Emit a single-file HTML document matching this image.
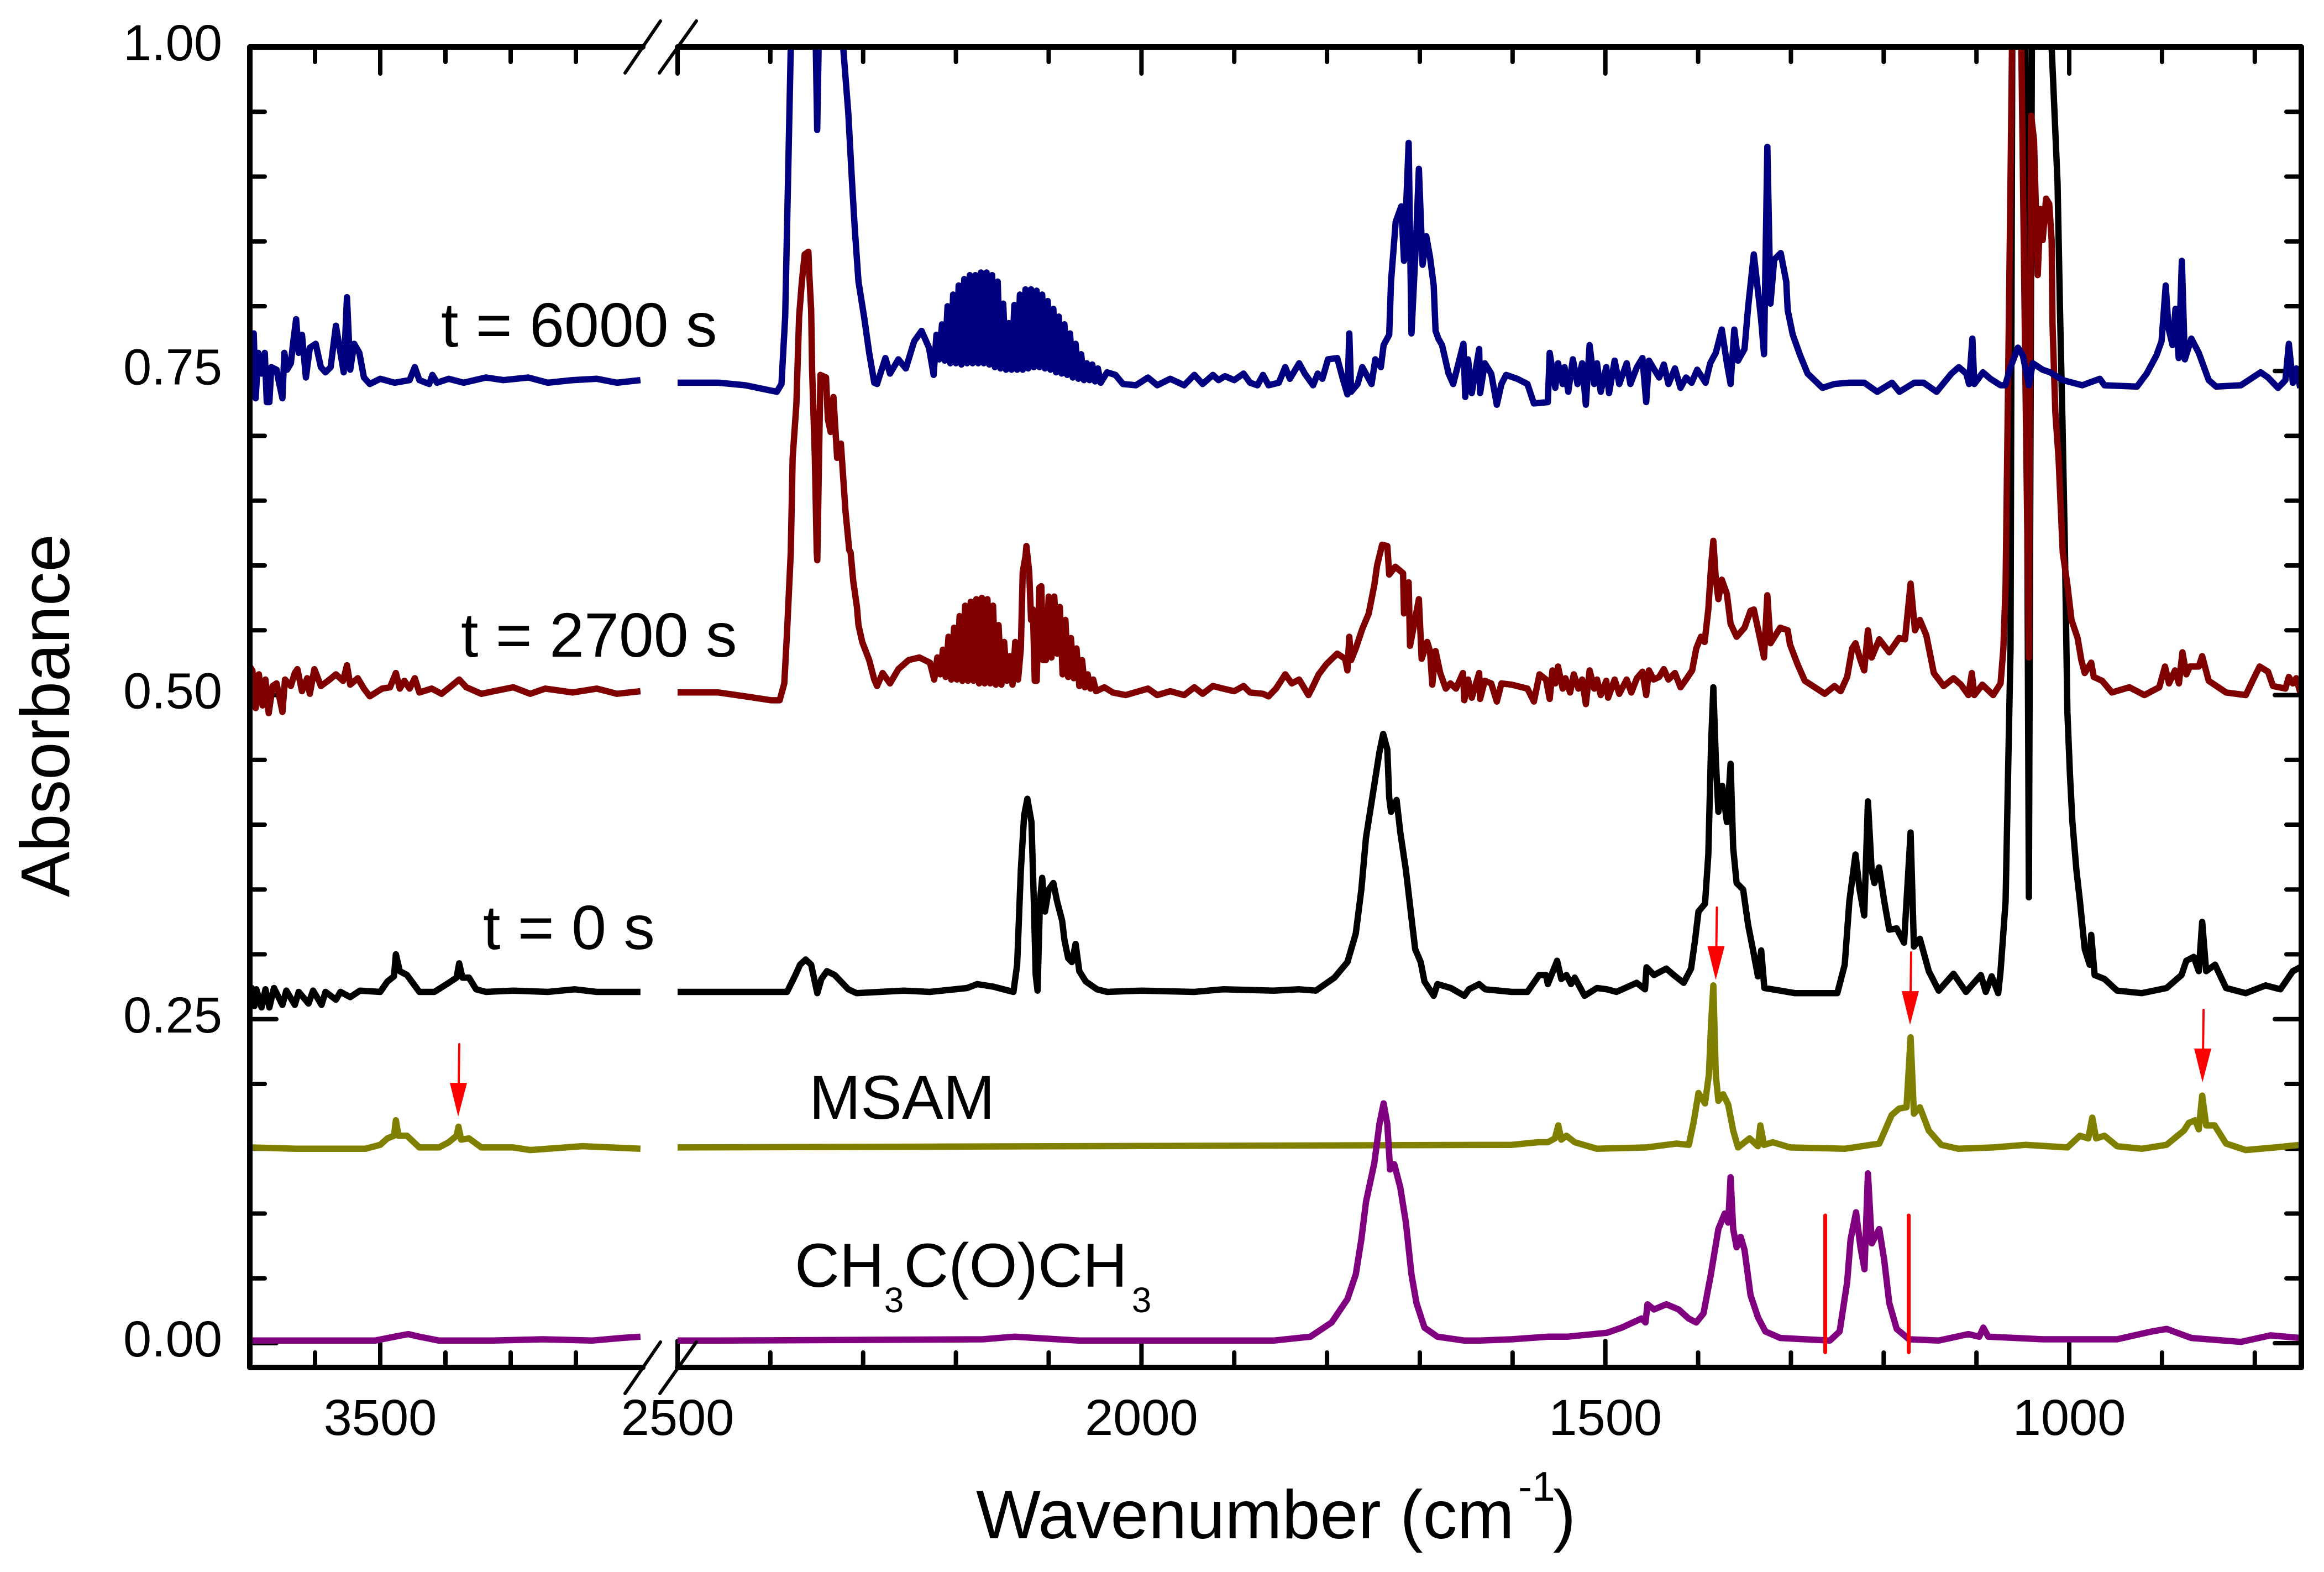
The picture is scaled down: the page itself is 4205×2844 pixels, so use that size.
<!DOCTYPE html>
<html lang="en">
<head>
<meta charset="utf-8">
<title>FTIR absorbance spectra</title>
<style>
html,body{margin:0;padding:0;background:#fff;}
svg{display:block;}
text{font-family:"Liberation Sans",Arial,sans-serif;fill:#000;}
</style>
</head>
<body>
<svg id="chart" xmlns="http://www.w3.org/2000/svg" width="4205" height="2844" viewBox="0 0 4205 2844">
<rect x="0" y="0" width="4205" height="2844" fill="#ffffff"/>
<defs><clipPath id="plot-clip"><rect x="452" y="85" width="3712" height="2389"/></clipPath></defs>
<g id="ticks"></g>
<g id="series" clip-path="url(#plot-clip)"></g>
<g id="marks"></g>
<g id="frame"></g>
<g id="labels"></g>

<text transform="translate(125,1623) rotate(-90)" font-size="125" textLength="657" lengthAdjust="spacingAndGlyphs">Absorbance</text>
<text x="1766" y="2783" font-size="124">Wavenumber (cm</text>
<text x="2747" y="2715" font-size="75">-1</text>
<text x="2810" y="2783" font-size="124">)</text>

<text x="798" y="627" font-size="113">t = 6000 s</text>
<text x="834" y="1188" font-size="113">t = 2700 s</text>
<text x="874" y="1717" font-size="113">t = 0 s</text>
<text x="1464" y="2024" font-size="112">MSAM</text>
<text x="1438" y="2328" font-size="112">CH<tspan font-size="64" dy="46">3</tspan><tspan dy="-46">C(O)CH</tspan><tspan font-size="64" dy="46" dx="8">3</tspan></text>
</svg>

<script>
/* ---------- axis data ---------- */
const xMajorTicks = [3500,2500,2000,1500,1000];
const xMinorTicks = [3600,3400,3300,3200,2400,2300,2200,2100,1900,1800,1700,1600,1400,1300,1200,1100,900,800];
const xTickLabels = ['3500','2500','2000','1500','1000'];
const yMajorTicks = [0,0.25,0.5,0.75,1];
const yMinorTicks = [0.05,0.1,0.15,0.2,0.3,0.35,0.4,0.45,0.55,0.6,0.65,0.7,0.8,0.85,0.9,0.95];
const yTickLabels = ['0.00','0.25','0.50','0.75','1.00'];
const arrowWavenumbers = [3380.5,1381,1171.6,856.4];
const arrowTipAbsorbance = [0.1748,0.2802,0.2456,0.2013];
const markerWavenumbers = [1263,1173];
const markerTopAbsorbance = [0.0985,0.0985];
const markerBottomAbsorbance = [-0.007,-0.007];

/* ---------- t = 6000 s ---------- */
const wnNavyLeft = [
3700,3697,3694,3691,3687,3682,3677,3674,3670,3667,
3659,3656,3650,3647,3643,3637,3634,3629,3625,3620,
3614,3608,3599,3591,3584,3576,3568,3562,3556,3551,
3546,3540,3532,3525,3516,3500,3478,3455,3447,3440,
3425,3420,3413,3395,3372,3338,3311,3273,3243,3205,
3168,3137,3101];
const absNavyLeft = [
.770,.764,.779,.729,.764,.748,.764,.726,.726,.753,
.751,.743,.729,.764,.751,.756,.770,.790,.764,.778,
.745,.768,.771,.753,.749,.753,.785,.767,.749,.807,
.751,.771,.764,.745,.740,.744,.741,.743,.753,.743,
.740,.747,.741,.744,.741,.745,.743,.745,.741,.743,
.744,.741,.743];
const wnNavyRightA = [
2500,2456,2427,2393,2388,2384,2381,2378,2373,2355,
2351,2349.5,2348,2345,2325,2321.5,2316,2312,2309,2305,
2299,2293.5,2288,2285,2276,2271,2262,2254,2245,2237,
2229,2224];
const absNavyRightA = [
.741,.741,.739,.734,.740,.792,.896,1.0,1.1,1.1,
1.0,.936,1.0,1.1,1.1,1.0,.949,.896,.860,.819,
.792,.764,.741,.740,.760,.748,.759,.752,.773,.781,
.768,.747];
const wnNavyBand = [
2221,2218,2215,2212,2209,2206,2203,2200,2197,2194,
2191,2188,2185,2182,2179,2176,2173,2170,2167,2164,
2161,2158,2155,2152,2149,2146,2143,2140,2137,2134,
2131,2128,2125,2122,2119,2116,2113,2110,2107,2104,
2101,2098,2095,2092,2089,2086,2083,2080,2077,2074,
2071,2068,2065,2062,2059,2056,2053,2050,2047,2044];
const absNavyBand = [
.778,.759,.786,.758,.800,.756,.809,.756,.816,.755,
.821,.756,.824,.756,.824,.756,.826,.756,.826,.755,
.824,.753,.819,.752,.802,.751,.787,.751,.801,.751,
.809,.751,.813,.752,.813,.753,.812,.753,.809,.752,
.804,.751,.798,.749,.792,.748,.786,.747,.779,.745,
.771,.744,.763,.743,.756,.743,.755,.742,.752,.741];
const wnNavyRightB = [
2037,2028,2020,2006,1993,1983,1969,1954,1943,1934,
1923,1917,1910,1900,1890,1883,1875,1869,1863,1852,
1845,1840,1830,1824,1815,1810,1805,1799,1789,1783,
1778,1776,1774,1767,1762,1752,1748,1742,1739,1733,
1731,1726,1720,1717,1712,1709,1704,1701,1697,1693,
1689,1685,1683,1680,1676,1669,1664,1653,1651,1648,
1644,1636,1635,1630,1623,1617,1612,1607,1595,1584,
1577,1562,1560,1554,1551,1546,1544,1540,1535,1530,
1525,1521,1517,1512,1509,1505,1499,1496,1490,1485,
1477,1473,1466,1460,1456,1453,1448,1442,1437,1432,
1425,1419,1413,1407,1401,1392,1387,1381,1374.5,1369,
1365,1361,1357,1350,1346,1340,1334,1332,1329,1325.4,
1322,1318,1311,1305,1303.5,1298,1290,1282,1266,1253,
1237,1221,1207,1191,1183,1167,1157,1143,1135,1127,
1119,1111,1108,1104.4,1102.3,1093,1085,1074,1069,1063.3,
1055.3,1050,1043.5,1039.3,1028.6,1020.6,1007,986,967,962,
927,916.5,906,900.5,896,893,888.7,885.5,882,878.6,
875.4,868.4,860.4,849.7,841.7,815,793.7,785.7,775,767,
763.3,759,755.3,751];
const absNavyRightB = [
.749,.747,.740,.739,.745,.739,.744,.739,.747,.740,
.747,.743,.746,.743,.748,.741,.739,.747,.739,.741,
.753,.744,.756,.748,.739,.748,.744,.759,.760,.744,
.732,.779,.734,.740,.753,.740,.759,.753,.770,.778,
.819,.865,.877,.835,.926,.779,.851,.906,.832,.854,
.838,.816,.781,.775,.770,.748,.740,.771,.730,.759,
.733,.767,.733,.756,.748,.724,.740,.747,.744,.740,
.725,.726,.764,.737,.756,.740,.753,.734,.759,.740,
.756,.724,.770,.740,.756,.734,.753,.733,.758,.740,
.756,.740,.753,.760,.726,.758,.752,.745,.755,.740,
.752,.737,.745,.741,.751,.741,.756,.764,.782,.756,
.740,.782,.758,.767,.800,.840,.802,.789,.763,.923,
.802,.836,.841,.819,.797,.778,.762,.748,.737,.740,
.741,.741,.734,.741,.734,.741,.741,.734,.741,.748,
.753,.748,.740,.775,.740,.749,.744,.739,.739,.753,
.768,.762,.739,.756,.751,.749,.743,.739,.744,.739,
.738,.748,.762,.773,.816,.783,.770,.798,.760,.835,
.759,.775,.764,.743,.738,.739,.749,.745,.737,.743,
.771,.741,.752,.737];

/* ---------- t = 2700 s ---------- */
const wnRedLeft = [
3700,3696,3691,3686,3680.5,3676,3671,3665,3659,3650,
3646,3637,3631,3627,3620,3612,3608,3601,3591,3580,
3568,3557,3551,3546,3534.5,3525,3516,3497,3485,3476,
3470,3463,3455,3447,3440,3421,3406,3391,3379,3368,
3345,3326,3296,3270,3247,3205,3168,3137,3101];
const absRedLeft = [
.522,.519,.490,.516,.492,.512,.486,.507,.509,.487,
.512,.507,.517,.520,.503,.513,.501,.520,.507,.511,
.516,.511,.523,.508,.513,.505,.499,.505,.506,.517,
.505,.511,.505,.513,.502,.505,.501,.507,.512,.506,
.501,.503,.506,.501,.505,.502,.505,.501,.503];
const wnRedRightA = [
2500,2456,2427,2399,2390,2385,2382,2378,2376,2372,
2369,2366,2363,2359,2358,2356,2355,2352,2350,2349.4,
2346,2340,2338,2335,2332,2328,2324,2319,2315,2313.5,
2310.7,2306.7,2305,2301,2293.5,2288,2285,2279,2271,2262,
2251,2239.4,2228,2223.4];
const absRedRightA = [
.502,.502,.499,.496,.496,.509,.549,.610,.683,.724,
.792,.819,.840,.842,.824,.797,.751,.683,.610,.604,
.747,.745,.713,.703,.730,.683,.694,.642,.612,.610,
.588,.568,.554,.541,.527,.512,.507,.517,.509,.520,
.527,.529,.525,.512];
const wnRedBand = [
2220,2217,2214,2211,2208,2205,2202,2199,2196,2193,
2190,2187,2184,2181,2178,2175,2172,2169,2166,2163,
2160,2157,2154,2151,2148,2145,2142,2139,2136,2133,
2130,2128,2125,2124,2121,2119,2117,2115,2113,2110,
2108,2106,2103,2100,2097,2094,2091,2088,2085,2082,
2079,2076,2073,2070,2067,2064,2061,2058,2055,2052,
2049];
const absRedBand = [
.529,.516,.535,.514,.545,.512,.552,.512,.561,.511,
.569,.511,.572,.511,.574,.509,.575,.509,.574,.509,
.569,.508,.554,.508,.541,.511,.530,.508,.541,.512,
.536,.595,.607,.615,.595,.558,.566,.511,.511,.583,
.584,.527,.527,.576,.529,.576,.532,.568,.516,.558,
.514,.544,.513,.536,.507,.527,.506,.516,.505,.512,
.503];
const wnRedRightB = [
2040,2031,2017,1993,1983,1969,1954,1943,1934,1923,
1912,1900,1890,1883,1869,1863,1855,1845,1838,1830,
1820,1815,1809,1800.5,1789,1780.5,1778,1776,1774,1769,
1762,1755,1749,1746,1740.6,1735,1733,1726.4,1718,1717,
1712,1710.5,1706,1701,1698,1692,1689,1686.5,1683,1678,
1672,1667,1661,1653.5,1652,1648,1644,1636,1635,1630,
1623,1617,1612,1601,1584,1577,1571,1564,1560,1557,
1554,1551,1546,1543,1538,1534,1529,1525,1521,1517,
1512,1509,1505,1499,1497,1490,1485,1477,1472,1466,
1460,1456,1453,1448,1442,1437,1432,1425,1419,1413,
1406.5,1402,1397,1393,1389,1386,1383.6,1381,1378.2,1374.5,
1369,1365,1358.5,1350,1343.5,1340,1334,1329,1325.4,1322,
1311.5,1303.5,1301,1293,1285,1263.5,1253,1246.4,1239.4,1234,
1230.4,1225,1221,1217,1213,1204.8,1194,1183.4,1177,1171,
1166.3,1161,1154,1146,1135.4,1124.7,1116.7,1108.7,1105,1102.3,
1093.7,1082,1074,1071,1068.6,1066,1063.3,1061.7,1060,1053,
1051.6,1043.5,1041,1038,1034,1031,1028.6,1025,1021.6,1019,
1018,1015,1011.5,1007,1002,997.6,991,987,983.3,976.3,
973.6,964.5,954,935.2,919,903,896.8,892.5,886,881.8,
878,873.8,870,860.4,856.7,849.7,831,809.7,801.7,794.8,
785.7,780.4,767,763.3,759,755.3,751];
const absRedRightB = [
.506,.502,.500,.505,.500,.503,.500,.506,.501,.507,
.505,.503,.507,.502,.501,.499,.505,.516,.509,.512,
.500,.507,.516,.524,.532,.528,.519,.545,.527,.536,
.551,.563,.585,.600,.616,.615,.593,.599,.594,.563,
.587,.538,.555,.574,.528,.541,.534,.508,.534,.517,
.505,.509,.505,.517,.496,.512,.498,.517,.497,.511,
.509,.495,.509,.508,.505,.495,.516,.512,.497,.519,
.509,.522,.505,.513,.502,.516,.505,.512,.493,.519,
.505,.512,.500,.511,.498,.512,.501,.512,.502,.513,
.518,.500,.519,.512,.514,.520,.512,.517,.506,.512,
.519,.536,.545,.541,.566,.600,.619,.590,.574,.589,
.578,.555,.545,.552,.565,.566,.546,.529,.577,.540,
.552,.550,.539,.524,.511,.501,.507,.503,.514,.536,
.540,.527,.519,.550,.529,.543,.533,.544,.543,.586,
.550,.558,.546,.517,.507,.513,.508,.500,.517,.500,
.508,.500,.509,.536,.585,.737,.896,1.0,1.1,1.1,
1.0,.529,.947,.928,.824,.875,.851,.883,.879,.851,
.786,.718,.683,.610,.585,.558,.544,.527,.517,.525,
.514,.511,.502,.506,.500,.506,.522,.509,.519,.509,
.533,.516,.522,.522,.530,.511,.502,.500,.512,.522,
.518,.507,.505,.514,.509,.513,.502];

/* ---------- t = 0 s ---------- */
const wnBlackLeft = [
3700,3697,3693,3690,3682,3676,3670,3663,3650,3644,
3631,3625,3610,3603,3590,3584,3568,3561,3546,3531,
3500,3489,3479,3476,3470,3459,3440,3417,3398,3383,
3379,3374,3364,3353,3338,3296,3243,3202,3168,3101];
const absBlackLeft = [
.274,.274,.260,.273,.259,.273,.259,.274,.261,.272,
.261,.271,.262,.272,.261,.271,.265,.271,.267,.272,
.271,.279,.283,.300,.287,.284,.271,.271,.277,.282,
.293,.282,.282,.273,.271,.272,.271,.273,.271,.271];
const wnBlackRight = [
2500,2456,2382,2373,2368,2362,2356,2349.4,2345,2339,
2330.6,2316,2307,2256.5,2228,2188,2177,2159.6,2138,2134,
2130,2126.5,2123,2118.6,2116,2114,2112,2109.4,2107,2104,
2100,2095,2091,2085.5,2083,2079,2075,2071,2067,2060,
2048,2037,2000,1943,1912,1857.5,1830,1812,1792,1778,
1769,1763,1758,1749,1743.5,1739.5,1735,1733,1731,1725,
1721,1715,1709,1705,1699,1695,1685,1681,1666.5,1652,
1647,1636,1629.5,1601,1584,1571.4,1564,1562,1552,1547.5,
1542,1537,1533,1522.4,1509,1498.3,1488,1466.3,1457.3,1455.6,
1447.6,1434.3,1426.3,1415.6,1407.6,1403.3,1399.6,1392.6,1389,1386,
1383.6,1381,1378.2,1374,1369,1365,1362.2,1358.5,1351.5,1346.2,
1341,1335.5,1332,1328.6,1311.5,1295.5,1250,1242,1237,1230.4,
1226,1221,1217,1213,1210,1205,1199.4,1194,1186,1178,
1171,1167.4,1161,1151.4,1140.7,1124.7,1111.3,1095.3,1090,1083.6,
1076.6,1074,1068.6,1066,1063.3,1061,1050,1047.3,1043.5,1040.3,
1038,1021,1019,1017,1012.6,1010,1007.3,1004.6,1002,999.2,
996.6,992.3,988.5,983.3,978,976.3,972.6,962,948.5,921.8,
895.1,879,873.8,865.8,860.4,856.7,852.4,842.8,831,809.7,
788.4,772.4,759,751];
const absBlackRight = [
.271,.271,.271,.284,.292,.296,.292,.270,.281,.287,
.284,.273,.270,.272,.271,.274,.277,.275,.271,.292,
.365,.407,.420,.402,.341,.284,.272,.341,.359,.333,
.350,.355,.341,.326,.311,.297,.294,.308,.287,.279,
.273,.271,.272,.271,.273,.272,.273,.272,.282,.294,
.316,.350,.390,.431,.456,.470,.458,.421,.410,.419,
.394,.365,.328,.304,.294,.279,.268,.277,.274,.268,
.273,.277,.273,.271,.271,.284,.284,.277,.295,.281,
.284,.277,.282,.268,.274,.273,.271,.278,.273,.290,
.284,.289,.284,.278,.289,.311,.333,.339,.377,.463,
.506,.451,.410,.430,.402,.447,.382,.355,.350,.323,
.304,.283,.303,.274,.272,.270,.270,.292,.341,.377,
.350,.330,.418,.365,.355,.367,.341,.319,.320,.309,
.394,.306,.312,.287,.272,.285,.271,.284,.271,.283,
.270,.287,.341,.438,.536,1.1,1.1,1.0,.344,1.0,
1.1,1.1,1.0,.968,.895,.797,.710,.610,.487,.438,
.402,.365,.341,.304,.292,.315,.284,.281,.272,.270,
.274,.284,.295,.298,.287,.325,.287,.292,.274,.270,
.276,.273,.287,.290];

/* ---------- MSAM ---------- */
const wnOliveLeft = [
3700,3629,3523,3500,3489,3479,3476,3472,3459,3440,
3410,3395,3383,3380,3376,3364,3345,3296,3270,3190,
3101];
const absOliveLeft = [
.151,.150,.150,.153,.158,.160,.172,.160,.160,.151,
.151,.155,.160,.167,.157,.158,.151,.151,.149,.152,
.150];
const wnOliveRight = [
2500,1601,1572.5,1562,1554.4,1550.7,1547.5,1542,1533,1509,
1456,1423.6,1410,1405,1399.6,1392.6,1388.4,1386,1383.6,1381,
1378.2,1373,1367.6,1362.2,1357,1344.6,1335.5,1332.9,1329,1319.5,
1301,1242,1204.8,1191.4,1183.4,1175.4,1171,1167.4,1161,1151.4,
1138,1119.4,1082,1047,1002,988.6,979.5,975.2,971,962,
948.5,921.8,895.1,876.4,871,864.2,860.4,856.7,852.4,843.3,
831,809.7,777.7,751];
const absOliveRight = [
.151,.153,.155,.155,.158,.168,.157,.160,.155,.150,
.151,.154,.153,.170,.193,.185,.207,.247,.276,.207,
.187,.192,.184,.164,.151,.158,.152,.168,.153,.155,
.151,.150,.154,.176,.181,.182,.236,.177,.182,.164,
.153,.150,.151,.153,.151,.160,.158,.174,.158,.160,
.152,.150,.153,.164,.170,.172,.165,.191,.168,.168,
.154,.149,.151,.153];

/* ---------- CH3C(O)CH3 ---------- */
const wnPurpleLeft = [3700,3508,3478,3457,3440,3410,3326,3251,3175,3130,3101];
const absPurpleLeft = [.002,.002,.005,.007,.005,.002,.002,.003,.002,.004,.005];
const wnPurpleRight = [
2500,2456,2171,2137,2114,2068,1857.5,1818,1795,1778,
1769,1763,1758,1749,1743.5,1739,1735,1732,1727.5,1721,
1715,1709,1703.6,1695,1681,1652,1635,1601,1562,1541,
1498.3,1482.3,1461,1456.7,1454.6,1447.6,1434.3,1421,1410.3,1402,
1394.2,1386.3,1378.2,1371.3,1367.6,1365,1362.2,1358.5,1354.2,1350,
1343.5,1335.5,1327.5,1311.5,1258,1247.5,1239.4,1235.7,1229.8,1225,
1220.7,1217,1212.8,1204.8,1199.4,1194,1186,1172.7,1140.7,1108.7,
1097,1092.6,1087.3,1028.6,948.5,911.2,895,868.4,815,783,751];
const absPurpleRight = [
.002,.002,.003,.005,.004,.002,.002,.005,.016,.034,
.053,.080,.109,.139,.169,.185,.169,.134,.138,.120,
.093,.053,.031,.012,.005,.002,.002,.003,.005,.005,
.008,.012,.019,.016,.030,.026,.030,.026,.019,.016,
.023,.053,.088,.100,.093,.128,.088,.074,.082,.072,
.037,.020,.009,.004,.002,.009,.047,.080,.101,.074,
.057,.131,.077,.088,.064,.031,.011,.003,.002,.007,
.005,.012,.005,.003,.003,.009,.011,.004,.001,.006,.004];

/* ---------- scales ---------- */
const SVG_NS = 'http://www.w3.org/2000/svg';
function xScale(w){
  return w > 2800 ? 452 + (3700 - w) * 1.18 : 1226 + (2500 - w) * 1.6787;
}
function yScale(v){
  return 2430 - 2345 * v;
}
function pathFrom(wn, abs){
  let d = '';
  const n = Math.min(wn.length, abs.length);
  for (let i = 0; i < n; i++) {
    d += (i === 0 ? 'M' : 'L') + xScale(wn[i]).toFixed(1) + ' ' + yScale(abs[i]).toFixed(1);
  }
  return d;
}
function makeLine(parent, x1, y1, x2, y2, width, color){
  const el = document.createElementNS(SVG_NS, 'line');
  el.setAttribute('x1', x1);
  el.setAttribute('y1', y1);
  el.setAttribute('x2', x2);
  el.setAttribute('y2', y2);
  el.setAttribute('stroke', color);
  el.setAttribute('stroke-width', width);
  el.setAttribute('stroke-linecap', 'round');
  parent.appendChild(el);
  return el;
}

const TOP = 85, BOTTOM = 2474, LEFT = 452, RIGHT = 4164;
const ticksG = document.getElementById('ticks');
const seriesG = document.getElementById('series');
const marksG = document.getElementById('marks');
const frameG = document.getElementById('frame');
const labelsG = document.getElementById('labels');

/* ticks */
xMajorTicks.forEach(function(w){
  const a = makeLine(ticksG, xScale(w), TOP, xScale(w), TOP + 48, 8, '#000');
  
  
  const b = makeLine(ticksG, xScale(w), BOTTOM, xScale(w), BOTTOM - 48, 8, '#000');
  
  
});
xMinorTicks.forEach(function(w){
  const a = makeLine(ticksG, xScale(w), TOP, xScale(w), TOP + 27, 8, '#000');
  
  
  const b = makeLine(ticksG, xScale(w), BOTTOM, xScale(w), BOTTOM - 27, 8, '#000');
  
  
});
yMajorTicks.forEach(function(v){
  const a = makeLine(ticksG, LEFT, yScale(v), LEFT + 48, yScale(v), 8, '#000');
  
  
  const b = makeLine(ticksG, RIGHT, yScale(v), RIGHT - 48, yScale(v), 8, '#000');
  
  
});
yMinorTicks.forEach(function(v){
  const a = makeLine(ticksG, LEFT, yScale(v), LEFT + 27, yScale(v), 8, '#000');
  
  
  const b = makeLine(ticksG, RIGHT, yScale(v), RIGHT - 27, yScale(v), 8, '#000');
  
  
});

/* series, bottom layer first */
function drawSeries(name, color, wnL, absL, wnR, absR){
  const el = document.createElementNS(SVG_NS, 'path');
  
  
  el.setAttribute('d', pathFrom(wnL, absL) + pathFrom(wnR, absR));
  el.setAttribute('fill', 'none');
  el.setAttribute('stroke', color);
  el.setAttribute('stroke-width', '11.5');
  el.setAttribute('stroke-linejoin', 'round');
  el.setAttribute('stroke-linecap', 'butt');
  seriesG.appendChild(el);
}
drawSeries('series-msam', '#808000', wnOliveLeft, absOliveLeft, wnOliveRight, absOliveRight);
drawSeries('series-acetone', '#800080', wnPurpleLeft, absPurpleLeft, wnPurpleRight, absPurpleRight);
drawSeries('series-t-0', '#000000', wnBlackLeft, absBlackLeft, wnBlackRight, absBlackRight);
drawSeries('series-t-2700', '#800000', wnRedLeft, absRedLeft,
  wnRedRightA.concat(wnRedBand, wnRedRightB), absRedRightA.concat(absRedBand, absRedRightB));
drawSeries('series-t-6000', '#000080', wnNavyLeft, absNavyLeft,
  wnNavyRightA.concat(wnNavyBand, wnNavyRightB), absNavyRightA.concat(absNavyBand, absNavyRightB));

/* red vertical markers and arrows */
markerWavenumbers.forEach(function(w, i){
  const m = makeLine(marksG, xScale(w), yScale(markerTopAbsorbance[i]), xScale(w), yScale(markerBottomAbsorbance[i]), 7, '#ff0000');
  
  
});
arrowWavenumbers.forEach(function(w, i){
  const tx = xScale(w), ty = yScale(arrowTipAbsorbance[i]);
  const shaft = makeLine(marksG, tx + 2, ty - 131, tx + 1, ty - 55, 4, '#ff0000');
  
  
  const head = document.createElementNS(SVG_NS, 'polygon');
  
  
  head.setAttribute('points', (tx - 15) + ',' + (ty - 61) + ' ' + (tx + 16) + ',' + (ty - 61) + ' ' + tx + ',' + ty);
  head.setAttribute('fill', '#ff0000');
  marksG.appendChild(head);
});

/* frame with broken x axis */
const frameParts = [
  ['left-axis-line', LEFT, TOP, LEFT, BOTTOM, 10],
  ['right-axis-line', RIGHT, TOP, RIGHT, BOTTOM, 10],
  ['top-axis-line-left', LEFT, TOP, 1163, TOP, 10],
  ['top-axis-line-right', 1226, TOP, RIGHT, TOP, 10],
  ['bottom-axis-line-left', LEFT, BOTTOM, 1163, BOTTOM, 10],
  ['bottom-axis-line-right', 1226, BOTTOM, RIGHT, BOTTOM, 10],
  ['top-break-slash-1', 1131, 132, 1195, 38, 6],
  ['top-break-slash-2', 1193, 132, 1260, 38, 6],
  ['bottom-break-slash-1', 1131, 2521, 1195, 2428, 6],
  ['bottom-break-slash-2', 1194, 2521, 1260, 2428, 6]
];
frameParts.forEach(function(p){
  const l = makeLine(frameG, p[1], p[2], p[3], p[4], p[5], '#000');
  
  
});

/* tick labels */
xMajorTicks.forEach(function(w, i){
  const t = document.createElementNS(SVG_NS, 'text');
  
  
  t.setAttribute('x', xScale(w));
  t.setAttribute('y', 2596);
  t.setAttribute('font-size', '92');
  t.setAttribute('text-anchor', 'middle');
  t.textContent = xTickLabels[i];
  labelsG.appendChild(t);
});
yMajorTicks.forEach(function(v, i){
  const t = document.createElementNS(SVG_NS, 'text');
  
  
  t.setAttribute('x', 402);
  t.setAttribute('y', yScale(v) + 24);
  t.setAttribute('font-size', '92');
  t.setAttribute('text-anchor', 'end');
  t.textContent = yTickLabels[i];
  labelsG.appendChild(t);
});
</script>
</body>
</html>
